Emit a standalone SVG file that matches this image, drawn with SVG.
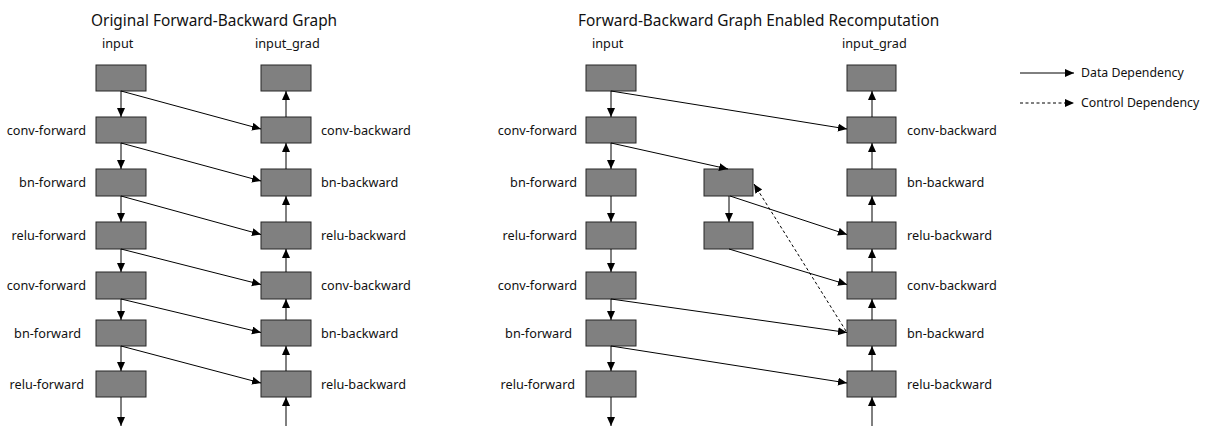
<svg xmlns="http://www.w3.org/2000/svg" width="1207" height="439" viewBox="0 0 1207 439">
<style>
.box{fill:#808080;stroke:#262626;stroke-width:1}
.t{font-family:"Noto Sans","Open Sans","DejaVu Sans",sans-serif;font-size:12.7px;fill:#111}
.e{text-anchor:end}
.title{font-family:"Noto Sans","Open Sans","DejaVu Sans",sans-serif;font-size:15.4px;fill:#111}
.lg{font-family:"Noto Sans","Open Sans","DejaVu Sans",sans-serif;font-size:12.3px;fill:#111}
.c{fill:none;stroke:#000;stroke-width:1;marker-end:url(#ah)}
.d{stroke-dasharray:3 2.5}
</style>
<defs>
<marker id="ah" markerUnits="userSpaceOnUse" markerWidth="10" markerHeight="9" refX="9" refY="4" orient="auto" viewBox="0 0 10 9">
<path d="M0,0 L9,4 L0,8 z" fill="#000"/>
</marker>
</defs>
<rect width="1207" height="439" fill="#fff"/>
<text class="title" x="91" y="26">Original Forward-Backward Graph</text>
<text class="title" x="578" y="26">Forward-Backward Graph Enabled Recomputation</text>
<text class="t" x="102" y="48">input</text>
<text class="t" x="255" y="48">input_grad</text>
<text class="t" x="592" y="48">input</text>
<text class="t" x="842" y="48">input_grad</text>

<!-- left panel forward -->
<g id="L-f0"><rect class="box" x="96" y="65" width="50" height="26"/></g>
<g id="L-f1"><rect class="box" x="96" y="117" width="50" height="26"/><text class="t e" x="86" y="135">conv-forward</text></g>
<g id="L-f2"><rect class="box" x="96" y="169" width="50" height="27"/><text class="t e" x="86" y="187">bn-forward</text></g>
<g id="L-f3"><rect class="box" x="96" y="222" width="50" height="27"/><text class="t e" x="86" y="240">relu-forward</text></g>
<g id="L-f4"><rect class="box" x="96" y="272" width="50" height="27"/><text class="t e" x="86" y="290">conv-forward</text></g>
<g id="L-f5"><rect class="box" x="96" y="320" width="50" height="26"/><text class="t e" x="81" y="338">bn-forward</text></g>
<g id="L-f6"><rect class="box" x="96" y="371" width="50" height="26"/><text class="t e" x="84" y="389">relu-forward</text></g>
<!-- left panel backward -->
<g id="L-b0"><rect class="box" x="261" y="65" width="50" height="26"/></g>
<g id="L-b1"><rect class="box" x="261" y="117" width="50" height="26"/><text class="t" x="321" y="135">conv-backward</text></g>
<g id="L-b2"><rect class="box" x="261" y="169" width="50" height="27"/><text class="t" x="321" y="187">bn-backward</text></g>
<g id="L-b3"><rect class="box" x="261" y="222" width="50" height="27"/><text class="t" x="321" y="240">relu-backward</text></g>
<g id="L-b4"><rect class="box" x="261" y="272" width="50" height="27"/><text class="t" x="321" y="290">conv-backward</text></g>
<g id="L-b5"><rect class="box" x="261" y="320" width="50" height="26"/><text class="t" x="321" y="338">bn-backward</text></g>
<g id="L-b6"><rect class="box" x="261" y="371" width="50" height="26"/><text class="t" x="321" y="389">relu-backward</text></g>

<!-- right panel forward -->
<g id="R-f0"><rect class="box" x="586" y="65" width="50" height="26"/></g>
<g id="R-f1"><rect class="box" x="586" y="117" width="50" height="26"/><text class="t e" x="577" y="135">conv-forward</text></g>
<g id="R-f2"><rect class="box" x="586" y="169" width="50" height="27"/><text class="t e" x="577" y="187">bn-forward</text></g>
<g id="R-f3"><rect class="box" x="586" y="222" width="50" height="27"/><text class="t e" x="577" y="240">relu-forward</text></g>
<g id="R-f4"><rect class="box" x="586" y="272" width="50" height="27"/><text class="t e" x="577" y="290">conv-forward</text></g>
<g id="R-f5"><rect class="box" x="586" y="320" width="50" height="26"/><text class="t e" x="572" y="338">bn-forward</text></g>
<g id="R-f6"><rect class="box" x="586" y="371" width="50" height="26"/><text class="t e" x="575" y="389">relu-forward</text></g>
<!-- recompute -->
<g id="R-r2"><rect class="box" x="704" y="169" width="49" height="27"/></g>
<g id="R-r3"><rect class="box" x="704" y="222" width="49" height="27"/></g>
<!-- right panel backward -->
<g id="R-b0"><rect class="box" x="847" y="65" width="49" height="26"/></g>
<g id="R-b1"><rect class="box" x="847" y="117" width="49" height="26"/><text class="t" x="907" y="135">conv-backward</text></g>
<g id="R-b2"><rect class="box" x="847" y="169" width="49" height="27"/><text class="t" x="907" y="187">bn-backward</text></g>
<g id="R-b3"><rect class="box" x="847" y="222" width="49" height="27"/><text class="t" x="907" y="240">relu-backward</text></g>
<g id="R-b4"><rect class="box" x="847" y="272" width="49" height="27"/><text class="t" x="907" y="290">conv-backward</text></g>
<g id="R-b5"><rect class="box" x="847" y="320" width="49" height="26"/><text class="t" x="907" y="338">bn-backward</text></g>
<g id="R-b6"><rect class="box" x="847" y="371" width="49" height="26"/><text class="t" x="907" y="389">relu-backward</text></g>

<g id="connectors">
<!-- left forward verticals -->
<line class="c" x1="121" y1="91" x2="121" y2="117"/>
<line class="c" x1="121" y1="143" x2="121" y2="169"/>
<line class="c" x1="121" y1="196" x2="121" y2="222"/>
<line class="c" x1="121" y1="249" x2="121" y2="272"/>
<line class="c" x1="121" y1="299" x2="121" y2="320"/>
<line class="c" x1="121" y1="346" x2="121" y2="371"/>
<line class="c" x1="121" y1="397" x2="121" y2="426"/>
<!-- left backward verticals -->
<line class="c" x1="286" y1="117" x2="286" y2="91"/>
<line class="c" x1="286" y1="169" x2="286" y2="143"/>
<line class="c" x1="286" y1="222" x2="286" y2="196"/>
<line class="c" x1="286" y1="272" x2="286" y2="249"/>
<line class="c" x1="286" y1="320" x2="286" y2="299"/>
<line class="c" x1="286" y1="371" x2="286" y2="346"/>
<line class="c" x1="286" y1="426" x2="286" y2="397"/>
<!-- left diagonals -->
<line class="c" x1="121" y1="91" x2="261" y2="129"/>
<line class="c" x1="121" y1="143" x2="261" y2="181"/>
<line class="c" x1="121" y1="196" x2="261" y2="234.5"/>
<line class="c" x1="121" y1="249" x2="261" y2="284.5"/>
<line class="c" x1="121" y1="299" x2="261" y2="332.5"/>
<line class="c" x1="121" y1="346" x2="261" y2="383"/>

<!-- right forward verticals -->
<line class="c" x1="611" y1="91" x2="611" y2="117"/>
<line class="c" x1="611" y1="143" x2="611" y2="169"/>
<line class="c" x1="611" y1="196" x2="611" y2="222"/>
<line class="c" x1="611" y1="249" x2="611" y2="272"/>
<line class="c" x1="611" y1="299" x2="611" y2="320"/>
<line class="c" x1="611" y1="346" x2="611" y2="371"/>
<line class="c" x1="611" y1="397" x2="611" y2="426"/>
<!-- right backward verticals -->
<line class="c" x1="872" y1="117" x2="872" y2="91"/>
<line class="c" x1="872" y1="169" x2="872" y2="143"/>
<line class="c" x1="872" y1="222" x2="872" y2="196"/>
<line class="c" x1="872" y1="272" x2="872" y2="249"/>
<line class="c" x1="872" y1="320" x2="872" y2="299"/>
<line class="c" x1="872" y1="371" x2="872" y2="346"/>
<line class="c" x1="872" y1="426" x2="872" y2="397"/>
<!-- right diagonals -->
<line class="c" x1="611" y1="91" x2="847" y2="129"/>
<line class="c" x1="611" y1="143" x2="728" y2="169"/>
<line class="c" x1="729" y1="196" x2="729" y2="222"/>
<line class="c" x1="730" y1="196" x2="847" y2="234.5"/>
<line class="c" x1="729" y1="249" x2="847" y2="284.5"/>
<line class="c" x1="611" y1="299" x2="847" y2="332.5"/>
<line class="c" x1="611" y1="346" x2="847" y2="383"/>
<line class="c d" x1="846" y1="331" x2="754" y2="184"/>
<!-- legend -->
<line class="c" x1="1020" y1="73" x2="1074" y2="73"/>
<line class="c d" x1="1020" y1="103" x2="1074" y2="103"/>
</g>
<text class="lg" x="1081" y="77">Data Dependency</text>
<text class="lg" x="1081" y="107">Control Dependency</text>
</svg>
